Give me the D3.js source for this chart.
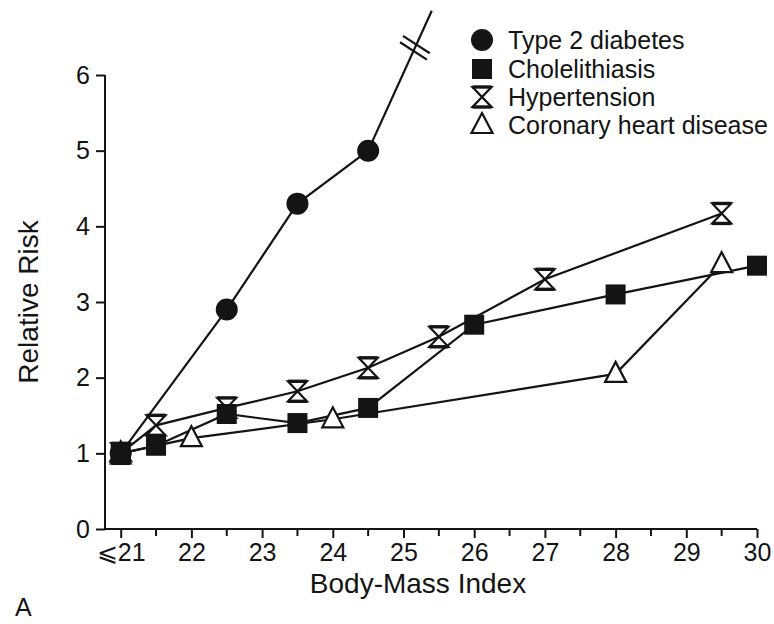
<!DOCTYPE html>
<html><head><meta charset="utf-8">
<script src="https://cdn.jsdelivr.net/npm/d3@7"></script>
<style>body{margin:0;background:#fff}svg{display:block}</style></head>
<body><svg id="c" width="774" height="624"></svg>
<script>
// ---- data ----
const xTickValues = [21, 22, 23, 24, 25, 26, 27, 28, 29, 30];
const xTickLabels = ["⩽21", "22", "23", "24", "25", "26", "27", "28", "29", "30"];
const xMinorTicks = [21.5, 22.5, 23.5, 24.5, 25.5, 26.5, 27.5, 28.5, 29.5];
const yTickValues = [0, 1, 2, 3, 4, 5, 6];

const diabetesX = [21, 22.5, 23.5, 24.5];
const diabetesY = [1.0, 2.9, 4.3, 5.0];
const diabetesContinueX = [24.5, 25.4];   // line continues off the scale
const diabetesContinueY = [5.0, 6.85];
const diabetesBreakY = 6.36;

const cholX = [21, 21.5, 22.5, 23.5, 24.5, 26, 28, 30];
const cholY = [1.0, 1.1, 1.52, 1.4, 1.6, 2.7, 3.1, 3.48];

const hyperX = [21, 21.5, 22.5, 23.5, 24.5, 25.5, 27, 29.5];
const hyperY = [1.0, 1.37, 1.6, 1.82, 2.13, 2.54, 3.3, 4.17];

const chdX = [21, 22, 24, 28, 29.5];
const chdY = [1.0, 1.2, 1.45, 2.05, 3.5];

const seriesNames = ["Type 2 diabetes", "Cholelithiasis", "Hypertension", "Coronary heart disease"];
const seriesMarkers = ["circle", "square", "hourglass", "triangle"];

// ---- drawing ----
const svg = d3.select("#c");
const FONT = "'Liberation Sans', Arial, Helvetica, sans-serif";
const INK = "#141414";

const x = d3.scaleLinear().domain([21, 30]).range([120.7, 757]);
const y = d3.scaleLinear().domain([0, 6]).range([529, 75]);
const axisX0 = 105;

const zip = (xs, ys) => xs.map((v, i) => ({x: v, y: ys[i]}));
const line = d3.line().x(d => x(d.x)).y(d => y(d.y));

// axes
const yAxis = svg.append("g").attr("transform", `translate(${axisX0},0)`)
  .call(d3.axisLeft(y).tickValues(yTickValues).tickFormat(d3.format("d"))
    .tickSize(9).tickPadding(6).tickSizeOuter(0));
yAxis.select(".domain").remove();
yAxis.append("line").attr("x1", 0).attr("x2", 0).attr("y1", y(6)).attr("y2", y(0))
  .attr("stroke", INK).attr("stroke-width", 2);
yAxis.selectAll(".tick line").attr("stroke", INK).attr("stroke-width", 2);
yAxis.selectAll(".tick text").attr("font-family", FONT).attr("font-size", 25).attr("fill", INK);

const xAxis = svg.append("g").attr("transform", `translate(0,${y(0)})`)
  .call(d3.axisBottom(x).tickValues(xTickValues).tickFormat((d, i) => xTickLabels[i])
    .tickSize(9).tickPadding(5).tickSizeOuter(0));
xAxis.select(".domain").remove();
xAxis.append("line").attr("x1", axisX0).attr("x2", x(30)).attr("y1", 0).attr("y2", 0)
  .attr("stroke", INK).attr("stroke-width", 2);
xAxis.selectAll(".tick line").attr("stroke", INK).attr("stroke-width", 2);
xAxis.selectAll(".tick text").attr("font-family", FONT).attr("font-size", 25).attr("fill", INK);
xAxis.selectAll(".minor").data(xMinorTicks).enter().append("line")
  .attr("x1", d => x(d)).attr("x2", d => x(d)).attr("y1", 0).attr("y2", 7)
  .attr("stroke", INK).attr("stroke-width", 2);

// axis titles
svg.append("text").attr("transform", `translate(38,${(y(0) + y(6)) / 2}) rotate(-90)`)
  .attr("text-anchor", "middle").attr("font-family", FONT).attr("font-size", 28).attr("fill", INK)
  .text("Relative Risk");
svg.append("text").attr("x", 418).attr("y", 593).attr("text-anchor", "middle")
  .attr("font-family", FONT).attr("font-size", 28).attr("fill", INK).text("Body-Mass Index");
svg.append("text").attr("x", 15).attr("y", 616)
  .attr("font-family", FONT).attr("font-size", 25).attr("fill", INK).text("A");

// lines
const lines = svg.append("g").attr("fill", "none").attr("stroke", INK).attr("stroke-width", 2.2);
[zip(chdX, chdY), zip(hyperX, hyperY), zip(cholX, cholY), zip(diabetesX, diabetesY),
 zip(diabetesContinueX, diabetesContinueY)].forEach(s => lines.append("path").attr("d", line(s)));

// break mark on the diabetes continuation
{
  const p0 = [x(diabetesContinueX[0]), y(diabetesContinueY[0])];
  const p1 = [x(diabetesContinueX[1]), y(diabetesContinueY[1])];
  const t = (diabetesBreakY - diabetesContinueY[0]) / (diabetesContinueY[1] - diabetesContinueY[0]);
  const bx = p0[0] + t * (p1[0] - p0[0]), by = p0[1] + t * (p1[1] - p0[1]);
  const ang = 33 * Math.PI / 180;
  const dx = Math.cos(ang), dy = Math.sin(ang);
  const L = 16;
  const g = svg.append("g");
  const ux = (p1[0] - p0[0]), uy = (p1[1] - p0[1]); const ul = Math.hypot(ux, uy);
  [-3.5, 3.5].forEach(o => {
    const cx = bx + o * ux / ul, cy = by + o * uy / ul;
    g.append("line").attr("x1", cx - L * dx).attr("y1", cy - L * dy)
      .attr("x2", cx + L * dx).attr("y2", cy + L * dy)
      .attr("stroke", INK).attr("stroke-width", 2.2);
  });
}

// markers
function marker(g, type, cx, cy) {
  const sw = 2.2;
  if (type === "circle") {
    g.append("circle").attr("cx", cx).attr("cy", cy).attr("r", 11).attr("fill", INK);
  } else if (type === "square") {
    g.append("rect").attr("x", cx - 10).attr("y", cy - 10).attr("width", 20).attr("height", 20).attr("fill", INK);
  } else if (type === "hourglass") {
    const w = 9.5, h = 10;
    g.append("path").attr("d", `M${cx - w},${cy - h}L${cx + w},${cy - h}L${cx - w},${cy + h}L${cx + w},${cy + h}Z`)
      .attr("fill", "#fff").attr("stroke", INK).attr("stroke-width", sw).attr("stroke-linejoin", "miter");
    g.append("line").attr("x1", cx - w).attr("x2", cx + w).attr("y1", cy - h).attr("y2", cy - h)
      .attr("stroke", INK).attr("stroke-width", 3.4);
    g.append("line").attr("x1", cx - w).attr("x2", cx + w).attr("y1", cy + h).attr("y2", cy + h)
      .attr("stroke", INK).attr("stroke-width", 3.4);
  } else if (type === "triangle") {
    const w = 10.5, h = 20;
    g.append("path").attr("d", `M${cx},${cy - h * 0.6}L${cx + w},${cy + h * 0.4}L${cx - w},${cy + h * 0.4}Z`)
      .attr("fill", "#fff").attr("stroke", INK).attr("stroke-width", sw).attr("stroke-linejoin", "miter");
  }
}
const mk = svg.append("g");
zip(chdX, chdY).forEach(d => marker(mk, "triangle", x(d.x), y(d.y)));
zip(hyperX, hyperY).forEach(d => marker(mk, "hourglass", x(d.x), y(d.y)));
zip(cholX, cholY).forEach(d => marker(mk, "square", x(d.x), y(d.y)));
zip(diabetesX, diabetesY).forEach(d => marker(mk, "circle", x(d.x), y(d.y)));

// legend
const leg = svg.append("g");
const legY = [40, 69, 97, 125];
seriesNames.forEach((name, i) => {
  marker(leg, seriesMarkers[i], 482, legY[i]);
  leg.append("text").attr("x", 508).attr("y", legY[i]).attr("dy", "0.36em")
    .attr("font-family", FONT).attr("font-size", 25).attr("fill", INK).text(name);
});
</script>
</body></html>
